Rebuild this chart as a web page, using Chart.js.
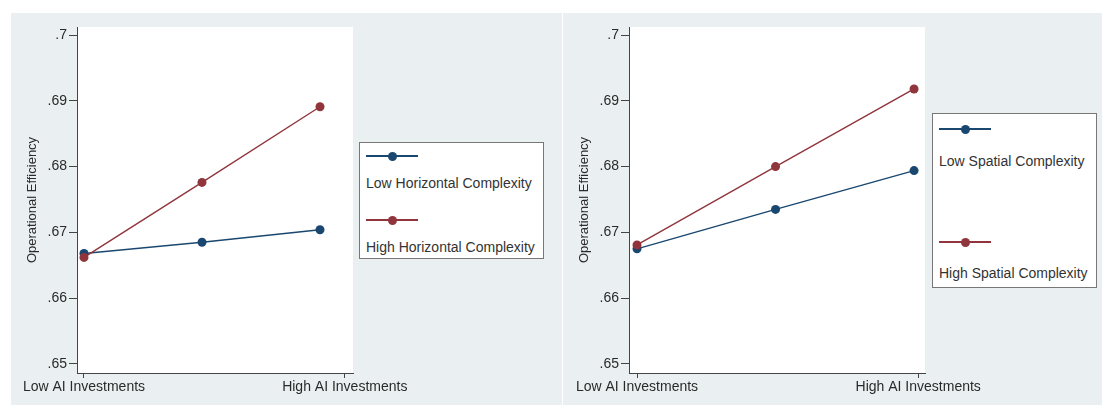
<!DOCTYPE html>
<html>
<head>
<meta charset="utf-8">
<script src="https://cdn.jsdelivr.net/npm/chart.js@4"></script>
<style>
  body { margin: 0; background: #fff; width: 1102px; height: 405px; position: relative; overflow: hidden; font-family: "Liberation Sans", Arial, sans-serif; }
  .panel { position: absolute; top: 13px; height: 392px; }
  .legend { position: absolute; background: #fff; border: 1px solid #777; box-sizing: border-box; }
  .sym { position: absolute; width: 52px; height: 1.5px; }
  .sym i { position: absolute; left: 22px; top: -3.5px; width: 9px; height: 9px; border-radius: 50%; }
  .lbl { position: absolute; font-size: 14px; color: #333; white-space: nowrap; line-height: 16px; }
</style>
</head>
<body>
<div class="panel" style="left:11px;width:551px"><canvas id="left"></canvas></div>
<div class="panel" style="left:563px;width:539px"><canvas id="right"></canvas></div>

<div class="legend" style="left:359px;top:142px;width:185px;height:117px">
  <div class="sym" style="left:6px;top:12px;background:#1a476f"><i style="background:#1a476f"></i></div>
  <div class="lbl" style="left:6px;top:32px">Low Horizontal Complexity</div>
  <div class="sym" style="left:6px;top:76px;background:#90353b"><i style="background:#90353b"></i></div>
  <div class="lbl" style="left:6px;top:96px">High Horizontal Complexity</div>
</div>
<div class="legend" style="left:932px;top:113px;width:165px;height:175px">
  <div class="sym" style="left:6px;top:14px;background:#1a476f"><i style="background:#1a476f"></i></div>
  <div class="lbl" style="left:6px;top:39px">Low Spatial Complexity</div>
  <div class="sym" style="left:6px;top:127px;background:#90353b"><i style="background:#90353b"></i></div>
  <div class="lbl" style="left:6px;top:151px">High Spatial Complexity</div>
</div>

<script>
// x positions of the three margins (low, middle, high AI investment)
const xPositions = [0, 1, 2];

// left panel: horizontal complexity
const lowHorizontal = [0.6668, 0.6685, 0.6704];
const highHorizontal = [0.6662, 0.6776, 0.6891];

// right panel: spatial complexity
const lowSpatial = [0.6675, 0.6735, 0.6794];
const highSpatial = [0.6681, 0.6800, 0.6918];

const yTicks = [0.65, 0.66, 0.67, 0.68, 0.69, 0.70];
const xTickLabels = ['Low AI Investments', 'High AI Investments'];
const leftXTicks = [0, 2.21];
const rightXTicks = [0, 2.03];

const NAVY = '#1a476f';
const MAROON = '#90353b';
const PANEL_BG = '#eaf0f2';
const FONT = '"Liberation Sans", Arial, sans-serif';

const bgPlugin = {
  id: 'bg',
  beforeDraw(chart) {
    const { ctx, chartArea: a } = chart;
    ctx.save();
    ctx.fillStyle = PANEL_BG;
    ctx.fillRect(0, 0, chart.width, chart.height);
    ctx.fillStyle = '#fff';
    ctx.fillRect(a.left, a.top, a.right - a.left, a.bottom - a.top);
    ctx.restore();
  }
};

function series(ys, color, order) {
  return {
    data: xPositions.map((x, i) => ({ x, y: ys[i] })),
    borderColor: color,
    backgroundColor: color,
    borderWidth: 1.4,
    pointRadius: 4.5,
    pointBorderWidth: 0,
    order
  };
}

function makeChart(id, low, high, xTicks, xMin, xMax, padRight) {
  new Chart(document.getElementById(id), {
    type: 'line',
    data: { datasets: [series(low, NAVY, 1), series(high, MAROON, 0)] },
    options: {
      responsive: true,
      maintainAspectRatio: false,
      animation: false,
      layout: { padding: { left: 0, top: 14, right: padRight, bottom: 0 } },
      plugins: { legend: { display: false }, tooltip: { enabled: false } },
      scales: {
        x: {
          type: 'linear',
          min: xMin, max: xMax,
          afterBuildTicks: s => { s.ticks = xTicks.map(v => ({ value: v })); },
          afterFit: s => { s.height = 32; },
          border: { color: '#444', width: 1 },
          grid: { drawOnChartArea: false, drawTicks: true, tickLength: 5, color: '#444' },
          ticks: {
            autoSkip: false, maxRotation: 0, padding: 1,
            color: '#2a2a2a', font: { family: FONT, size: 14 },
            callback: v => xTickLabels[xTicks.indexOf(v)]
          }
        },
        y: {
          min: 0.64863, max: 0.70122,
          afterBuildTicks: s => { s.ticks = yTicks.map(v => ({ value: v })); },
          afterFit: s => { s.width = 66; },
          border: { color: '#444', width: 1 },
          grid: { drawOnChartArea: false, drawTicks: true, tickLength: 8, color: '#444' },
          ticks: {
            padding: 2, color: '#2a2a2a', font: { family: FONT, size: 14 },
            callback: v => String(+v.toFixed(2)).replace(/^0/, '')
          },
          title: {
            display: true, text: 'Operational Efficiency',
            color: '#2a2a2a', font: { family: FONT, size: 13 },
            padding: { top: 14, bottom: 0 }
          }
        }
      }
    },
    plugins: [bgPlugin]
  });
}

makeChart('left', lowHorizontal, highHorizontal, leftXTicks, -0.0593, 2.2797, 209);
makeChart('right', lowSpatial, highSpatial, rightXTicks, -0.0578, 2.079, 177);
</script>
</body>
</html>
